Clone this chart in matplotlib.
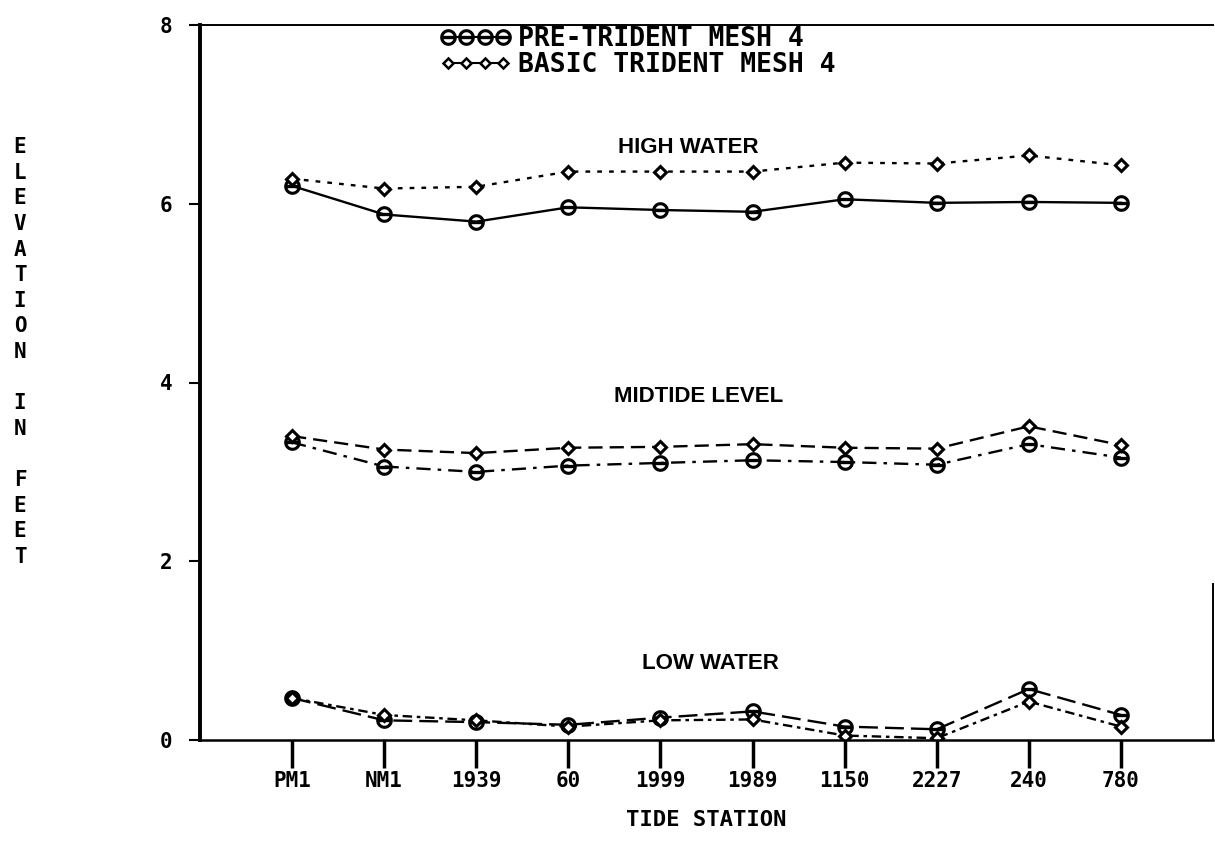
import matplotlib
matplotlib.use('Agg')
import matplotlib.pyplot as plt
from matplotlib.lines import Line2D

stations = ['PM1', 'NM1', '1939', '60', '1999', '1989', '1150', '2227', '240', '780']

high_pre = [6.20, 5.88, 5.80, 5.96, 5.93, 5.91, 6.05, 6.01, 6.02, 6.01]
high_basic = [6.28, 6.17, 6.19, 6.36, 6.36, 6.36, 6.46, 6.45, 6.54, 6.43]
mid_pre = [3.33, 3.06, 3.00, 3.07, 3.10, 3.13, 3.11, 3.08, 3.31, 3.16]
mid_basic = [3.40, 3.25, 3.21, 3.27, 3.28, 3.31, 3.27, 3.26, 3.51, 3.30]
low_pre = [0.47, 0.22, 0.20, 0.17, 0.25, 0.32, 0.15, 0.12, 0.57, 0.28]
low_basic = [0.47, 0.28, 0.22, 0.15, 0.22, 0.23, 0.05, 0.02, 0.43, 0.15]

mono = 'DejaVu Sans Mono'
circ = r'$\ominus$'

fig = plt.figure(figsize=(12.15, 8.58), dpi=100)
ax = fig.add_axes([200/1215, 1 - 740/858, 1013/1215, 715/858])

x = list(range(len(stations)))
kw_c = dict(color='black', lw=1.7, marker=circ, markersize=11)
kw_d = dict(color='black', lw=1.7, marker='D', markersize=6.5,
            markerfacecolor='white', markeredgewidth=2.2)

ax.plot(x, high_pre, ls='-', **kw_c)
ax.plot(x, high_basic, ls=(0, (2, 3)), **kw_d)
ax.plot(x, mid_pre, ls=(0, (6, 3, 1.5, 3)), **kw_c)
ax.plot(x, mid_basic, ls=(0, (6, 3)), **kw_d)
ax.plot(x, low_pre, ls=(0, (8, 3)), **kw_c)
ax.plot(x, low_basic, ls=(0, (4, 2, 1.5, 2)), **kw_d)

ax.set_xlim(-1, 10)
ax.set_ylim(0, 8)
ax.set_xticks(x)
ax.set_xticklabels(stations, fontfamily=mono, fontweight='bold', fontsize=15)
ax.set_yticks([0, 2, 4, 6, 8])
ax.set_yticklabels(['0', '2', '4', '6', '8'], fontfamily=mono, fontweight='bold', fontsize=15)
ax.tick_params(axis='x', direction='out', length=20, width=2.5, pad=2)
ax.tick_params(axis='y', direction='out', length=8, width=1.5, pad=12)

ax.spines['left'].set_linewidth(2.8)
ax.spines['bottom'].set_linewidth(1.8)
ax.spines['top'].set_linewidth(1.4)
ax.spines['right'].set_linewidth(1.4)
ax.spines['right'].set_bounds(0, 1.75)

bold = dict(fontfamily='Liberation Sans', fontweight='bold', fontsize=16, ha='center', va='center')
ax.text(4.3, 6.63, 'HIGH WATER', **bold)
ax.text(4.41, 3.84, 'MIDTIDE LEVEL', **bold)
ax.text(4.54, 0.86, 'LOW WATER', **bold)

handles = [
    Line2D([], [], color='black', lw=1.5, marker=circ, markersize=11),
    Line2D([], [], color='black', lw=1.5, marker='D', markersize=5,
           markerfacecolor='white', markeredgewidth=1.8),
]
fig.legend(handles, ['PRE-TRIDENT MESH 4', 'BASIC TRIDENT MESH 4'],
           loc='upper left', bbox_to_anchor=(440/1215, 1 - 26/858),
           frameon=False, numpoints=4, handlelength=2.7, handletextpad=0.25,
           labelspacing=0.0, borderaxespad=0, borderpad=0,
           prop={'family': mono, 'weight': 'bold', 'size': 19})

fig.text(706/1215, 1 - 820/858, 'TIDE STATION', fontfamily=mono, fontweight='bold',
         fontsize=16, ha='center', va='center')
fig.text(20/1215, 1 - 352/858, '\n'.join('ELEVATION IN FEET'),
         fontfamily=mono, fontweight='bold', fontsize=15, ha='center', va='center',
         linespacing=1.35)

fig.savefig('out.png', dpi=100)
